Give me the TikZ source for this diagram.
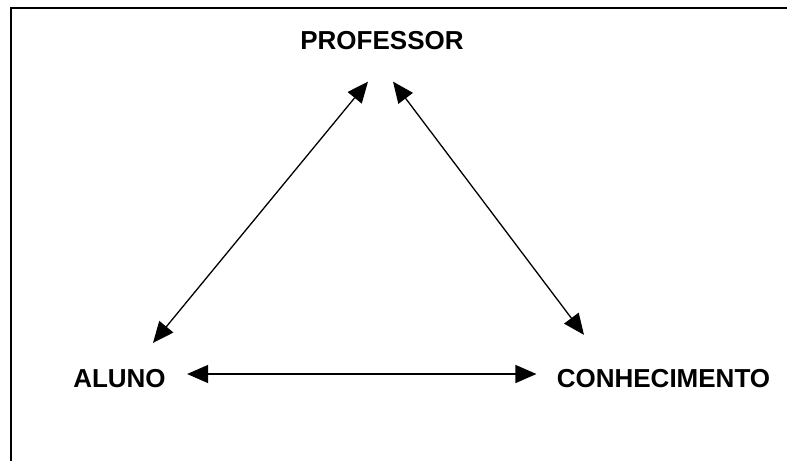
\documentclass[tikz,border=0pt]{standalone}
\usepackage{fontspec}
\setmainfont{Liberation Sans}
\usepackage{tikz}
\usetikzlibrary{arrows.meta}

\tikzset{
    rotulo/.style={inner sep=0pt, font=\fontsize{13}{15}\selectfont\bfseries},
    seta/.style={line width=0.65pt, {Triangle[length=10.5pt,width=9pt]}-{Triangle[length=10.5pt,width=9pt]}}
}

\begin{document}
\begin{tikzpicture}[x=0.5pt, y=-0.5pt]
    \useasboundingbox (0,0) rectangle (787,461);
    \draw[line width=1pt] (11,461) -- (11,8) -- (787,8);
    \node[rotulo] (professor) at (382,41) {PROFESSOR};
    \node[rotulo] (aluno) at (119.5,378.5) {ALUNO};
    \node[rotulo] (conhecimento) at (663.5,378.5) {CONHECIMENTO};
    \draw[seta] ([shift={(-14,31)}]professor.south) -- ([shift={(33.5,-26)}]aluno.north);
    \draw[seta] ([shift={(11,31)}]professor.south) -- ([shift={(-79.5,-34)}]conhecimento.north);
    \draw[seta] ([shift={(21,-4.5)}]aluno.east) -- ([shift={(-20,-4.5)}]conhecimento.west);
\end{tikzpicture}
\end{document}
